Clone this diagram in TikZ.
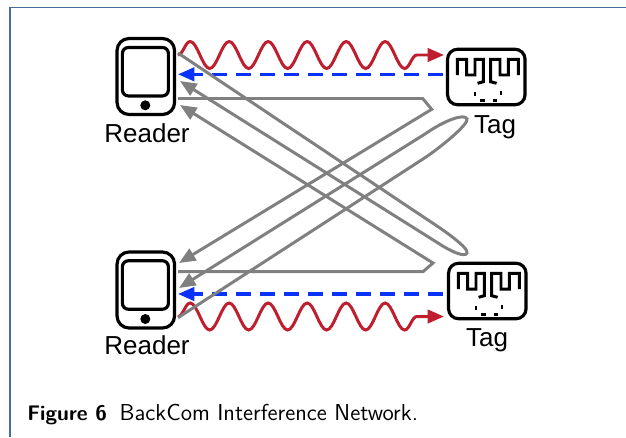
\documentclass[tikz,border=0pt]{standalone}
\usepackage{fontspec}
\setmainfont{Liberation Sans}
\usetikzlibrary{arrows.meta,decorations.pathmorphing}
\definecolor{framecol}{RGB}{70,110,150}
\definecolor{wavered}{RGB}{190,30,45}
\definecolor{backblue}{RGB}{10,50,250}
\definecolor{leakgray}{RGB}{128,128,128}
\tikzset{
  readerbox/.style={draw,line width=1.8pt,rounded corners=0.24cm,minimum width=1.15cm,minimum height=1.52cm},
  readerscreen/.style={draw,line width=1.8pt,rounded corners=0.12cm,minimum width=0.92cm,minimum height=0.97cm},
  readerbtn/.style={circle,fill=black,inner sep=0pt,minimum size=0.2cm},
  tagbox/.style={draw,line width=1.8pt,rounded corners=0.2cm,minimum width=1.55cm,minimum height=1.11cm},
  devlabel/.style={font=\fontsize{14.8}{16}\selectfont,inner sep=0pt},
  wave/.style={wavered,line width=1.7pt,-{Triangle[length=0.33cm,width=0.27cm]},decorate,
    decoration={snake,segment length=0.78cm,amplitude=0.27cm,post length=0.5cm}},
  backscatter/.style={backblue,line width=1.8pt,dash pattern=on 0.3cm off 0.18cm,-{Triangle[length=0.33cm,width=0.27cm]}},
  leak/.style={leakgray,line width=1.7pt,-{Triangle[length=0.33cm,width=0.27cm]}},
  pics/tagchip/.style={code={
    \draw[line width=1.7pt] (-29,-2) -- (-29,-17.7) -- (-19.7,-17.7) -- (-19.7,-2) -- (-11.3,-2) -- (-11.3,-17.7) -- (-3,-17.7) -- (-3,4.7) -- (-8.7,6.3);
    \draw[line width=1.7pt] (32,-2) -- (32,-17.7) -- (22,-17.7) -- (22,-2) -- (13.7,-2) -- (13.7,-17.7) -- (4.3,-17.7) -- (4.3,4.7) -- (10.3,6.3);
    \draw[line width=1.7pt] (-11.3,15) -- (-11.3,18.7);
    \draw[line width=1.7pt] (-6.3,23.7) -- (-1.3,23.7);
    \draw[line width=1.7pt] (6.3,23.7) -- (11,23.7);
    \draw[line width=1.7pt] (14.7,13.5) -- (14.7,18);
  }}
}
\begin{document}
\begin{tikzpicture}[x=0.02cm,y=-0.02cm]
  \useasboundingbox (0,0) rectangle (626,437);
  \draw[framecol,line width=0.8pt] (10,437) -- (10,7.7) -- (626,7.7);

  \node[readerbox] (rd1) at (145.8,76.5) {};
  \node[readerscreen] (rd1scr) at (145.4,71.7) {};
  \node[readerbtn] (rd1btn) at (145.3,105.3) {};
  \node[devlabel] (rd1txt) at (147,133) {Reader};
  \node[readerbox] (rd2) at (145.8,290) {};
  \node[readerscreen] (rd2scr) at (145.4,285) {};
  \node[readerbtn] (rd2btn) at (145.3,319) {};
  \node[devlabel] (rd2txt) at (147,345) {Reader};

  \node[tagbox] (tg1) at (486.3,77) {};
  \pic at (tg1.center) {tagchip};
  \node[devlabel] (tg1txt) at (495,127.5) {Tag};
  \node[tagbox] (tg2) at (487.3,291) {};
  \pic at (tg2.center) {tagchip};
  \node[devlabel] (tg2txt) at (487,340.5) {Tag};

  \coordinate (rd1wave) at (178,55);
  \coordinate (rd1back) at (178,74.3);
  \coordinate (rd1a) at (178,53);
  \coordinate (rd1b) at (180,81);
  \coordinate (rd1c) at (178,98.5);
  \coordinate (rd1d) at (180,105);
  \coordinate (rd2a) at (179,263);
  \coordinate (rd2b) at (178,271.7);
  \coordinate (rd2c) at (179,288);
  \coordinate (rd2back) at (178,294);
  \coordinate (rd2d) at (178,317.7);
  \coordinate (rd2wave) at (178,316.5);
  \coordinate (tg1wave) at (444,55);
  \coordinate (tg1back) at (443,74.3);
  \coordinate (tg2back) at (443,294);
  \coordinate (tg2wave) at (444,316.5);

  \draw[wave] (rd1wave) -- (tg1wave);
  \draw[wave] (rd2wave) -- (tg2wave);
  \draw[backscatter] (tg1back) -- (rd1back);
  \draw[backscatter] (tg2back) -- (rd2back);

  \draw[leak] (rd1c) -- (422.7,98.5) -- (431.7,109.3) -- (rd2a);
  \draw[leak] (rd2b) -- (423,271.7) -- (433,263) -- (rd1d);
  \draw[leak] (rd1a) -- (428,220) .. controls (445,231) and (469,248) .. (467,253) .. controls (465,258) and (450,251) .. (438,243) -- (rd1b);
  \draw[leak] (rd2d) -- (423,159) .. controls (440,148) and (469,124) .. (467,119) .. controls (465,113) and (445,120) .. (425,134) -- (rd2c);

  \node[anchor=base west,inner sep=0pt,font=\sffamily\fontsize{13.1}{15}\selectfont] (cap) at (27,420) {{\fontsize{12}{15}\selectfont\textbf{Figure 6}}\hspace{0.55em}BackCom Interference Network.};
\end{tikzpicture}
\end{document}
